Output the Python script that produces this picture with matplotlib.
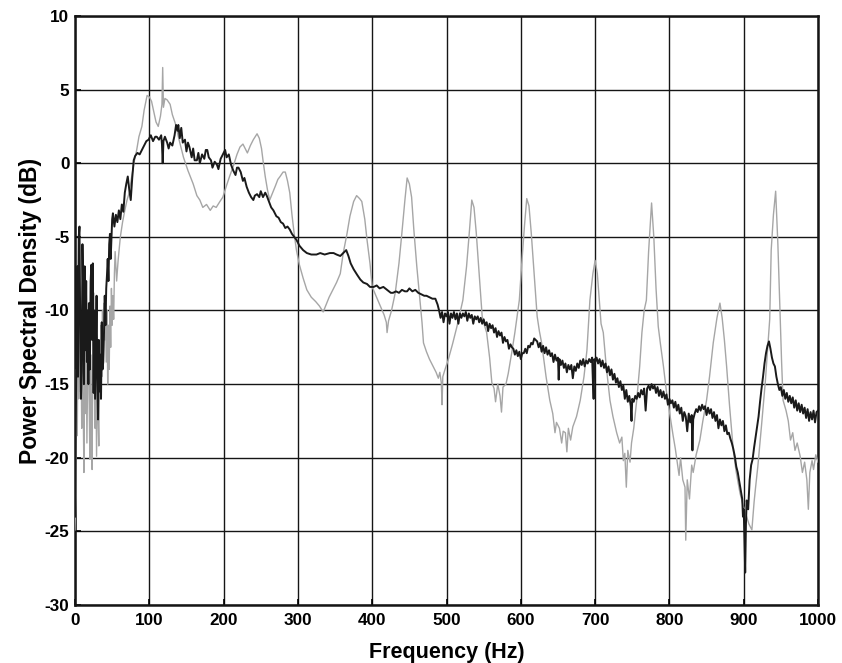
import numpy as np
import matplotlib.pyplot as plt

# (frequency Hz, PSD dB)
gray_points = [
    (0, -24.9), (1, -22.6), (2, -14.0), (3, -18.5), (4, -11.5), (5, -16.0), (6, -10.0), (7, -15.5),
    (8, -12.0), (9, -18.0), (10, -13.0), (11, -16.5), (12, -21.0), (13, -12.5), (14, -17.0), (15, -11.0),
    (16, -19.0), (17, -14.0), (18, -9.5), (19, -16.0), (20, -20.1), (21, -13.0), (22, -17.5), (23, -20.8),
    (24, -12.0), (25, -8.8), (26, -15.0), (27, -18.0), (28, -13.5), (29, -19.9), (30, -14.0), (31, -17.0),
    (32, -19.2), (33, -12.5), (34, -16.0), (35, -11.0), (36, -14.5), (37, -10.0), (38, -13.5), (39, -9.5),
    (40, -12.0), (41, -9.5), (42, -13.5), (43, -10.0), (44, -15.0), (45, -11.0), (46, -14.0), (47, -9.7),
    (48, -12.5), (49, -8.5), (50, -11.0), (51, -9.0), (52, -10.6), (53, -7.5), (54, -6.0), (55, -7.0),
    (56, -8.0), (58, -6.6), (61, -5.0), (64, -4.0), (67, -3.2), (70, -2.5), (73, -2.0), (76, -1.0),
    (80, 0.2), (83, 0.9), (86, 1.8), (90, 2.5), (93, 3.6), (97, 4.6), (100, 4.5), (103, 4.2),
    (106, 3.5), (109, 2.8), (112, 2.5), (115, 3.2), (117, 4.0), (118, 6.5), (119, 3.8), (121, 4.4),
    (124, 4.3), (128, 4.0), (131, 3.3), (135, 2.7), (140, 1.6), (146, 0.4), (152, -0.5), (159, -1.4),
    (164, -2.2), (168, -2.5), (172, -3.0), (177, -2.8), (182, -3.2), (186, -2.9), (190, -3.0), (195, -2.6),
    (199, -2.3), (204, -1.5), (208, -0.9), (213, -0.2), (218, 0.6), (222, 1.1), (226, 1.3), (229, 1.0),
    (232, 0.7), (236, 1.2), (240, 1.6), (245, 2.0), (248, 1.7), (251, 1.0), (253, 0.2), (256, -0.9),
    (259, -1.8), (262, -2.5), (266, -2.0), (270, -1.5), (273, -1.1), (276, -0.9), (280, -0.6), (283, -0.6),
    (286, -1.2), (289, -2.0), (292, -3.5), (295, -4.8), (298, -5.9), (302, -6.9), (307, -7.8), (312, -8.6),
    (318, -9.1), (324, -9.4), (329, -9.7), (334, -10.1), (338, -9.6), (342, -9.1), (347, -8.6), (352, -8.1),
    (357, -7.5), (361, -6.1), (366, -4.8), (370, -3.6), (375, -2.6), (379, -2.2), (383, -2.4), (386, -2.6),
    (390, -3.8), (393, -5.2), (397, -6.8), (400, -8.4), (405, -9.0), (411, -9.7), (416, -10.3), (419, -10.8),
    (420, -11.5), (422, -10.7), (426, -10.0), (431, -8.8), (436, -6.8), (440, -4.7), (444, -2.5), (447, -1.0),
    (450, -1.4), (453, -2.3), (456, -4.5), (460, -7.0), (464, -9.2), (467, -10.8), (469, -12.2), (473, -12.8),
    (477, -13.3), (482, -13.8), (486, -14.2), (489, -14.6), (491, -14.2), (493, -14.9), (494, -16.4), (495, -14.5),
    (498, -14.0), (502, -13.4), (508, -12.3), (514, -11.1), (518, -10.2), (522, -9.3), (527, -7.0), (531, -4.5),
    (534, -2.5), (537, -3.0), (540, -4.7), (544, -7.5), (548, -10.4), (551, -11.0), (554, -11.5), (558, -13.2),
    (561, -14.9), (564, -15.3), (566, -16.2), (569, -15.0), (572, -15.8), (574, -16.9), (576, -15.2), (580, -15.0),
    (583, -14.3), (588, -12.8), (592, -11.5), (598, -9.3), (601, -7.0), (605, -4.2), (608, -2.4), (611, -2.9),
    (614, -4.7), (618, -7.5), (622, -10.4), (625, -11.4), (628, -12.2), (634, -14.5), (639, -16.1), (643, -17.0),
    (646, -18.3), (648, -17.6), (652, -18.0), (655, -19.0), (657, -18.2), (660, -18.3), (662, -19.6), (664, -18.0),
    (667, -18.8), (670, -17.9), (675, -17.2), (680, -16.1), (685, -14.5), (689, -12.7), (693, -9.3), (697, -7.5),
    (700, -6.6), (703, -7.5), (706, -9.5), (708, -10.9), (711, -11.5), (715, -13.8), (720, -16.1), (724, -17.2),
    (729, -18.3), (733, -19.0), (736, -18.6), (738, -20.2), (740, -19.7), (742, -22.0), (744, -19.5), (747, -20.3),
    (749, -19.0), (752, -18.0), (756, -16.1), (760, -13.8), (763, -11.5), (766, -10.0), (769, -9.3), (772, -6.0),
    (776, -2.7), (779, -5.0), (782, -8.5), (785, -11.1), (788, -12.3), (792, -13.8), (796, -15.5), (801, -17.2),
    (805, -18.5), (808, -19.4), (810, -20.1), (813, -21.2), (815, -20.0), (818, -21.5), (821, -22.0), (822, -25.6),
    (824, -21.5), (827, -22.8), (830, -20.5), (832, -21.0), (836, -19.8), (841, -18.8), (845, -17.5), (850, -16.1),
    (854, -14.5), (859, -12.2), (864, -10.5), (868, -9.5), (871, -10.5), (874, -12.0), (877, -13.8), (881, -16.5),
    (886, -19.5), (890, -21.0), (895, -22.4), (899, -23.2), (904, -24.0), (907, -24.5), (911, -24.9), (914, -23.0),
    (916, -22.0), (919, -20.6), (924, -17.8), (929, -14.9), (935, -10.6), (937, -5.9), (940, -3.5), (943, -1.9),
    (946, -5.5), (949, -10.4), (951, -13.5), (953, -16.1), (957, -16.8), (960, -17.5), (963, -18.8), (966, -18.3),
    (969, -19.5), (972, -19.0), (976, -19.9), (979, -21.0), (982, -20.3), (985, -21.5), (987, -23.5), (989, -21.0),
    (992, -20.2), (994, -20.8), (997, -19.8), (1000, -20.3),
]

black_points = [
    (0, -24.0), (1, -18.0), (2, -12.0), (3, -7.0), (4, -14.5), (5, -5.0), (6, -4.3), (7, -11.0),
    (8, -16.0), (9, -14.2), (10, -5.5), (11, -9.0), (12, -15.0), (13, -7.0), (14, -12.7), (15, -8.0),
    (16, -13.5), (17, -10.0), (18, -15.0), (19, -9.5), (20, -14.0), (21, -8.0), (22, -6.9), (23, -12.0),
    (24, -6.8), (25, -15.6), (26, -10.0), (27, -16.0), (28, -12.5), (29, -9.0), (30, -14.5), (31, -17.4),
    (32, -12.0), (33, -15.5), (34, -13.0), (35, -16.0), (36, -10.8), (37, -14.0), (38, -13.5), (39, -11.5),
    (40, -9.0), (41, -11.0), (42, -8.5), (43, -7.6), (44, -6.5), (45, -8.0), (46, -5.5), (47, -4.8),
    (48, -6.5), (50, -3.8), (51, -3.4), (53, -4.3), (55, -3.5), (57, -4.0), (59, -3.2), (61, -3.8),
    (63, -2.8), (65, -3.3), (67, -2.0), (69, -1.4), (71, -0.9), (73, -1.8), (75, -2.5), (77, -1.0),
    (79, 0.2), (81, 0.5), (84, 0.7), (87, 0.6), (90, 0.9), (93, 1.2), (96, 1.5), (99, 1.6),
    (102, 1.9), (105, 1.5), (108, 1.8), (110, 1.8), (113, 1.6), (116, 1.9), (117, 1.3), (118, 0.0),
    (119, 1.5), (121, 1.8), (124, 1.4), (126, 1.0), (128, 1.4), (131, 1.2), (134, 1.9), (136, 2.6),
    (138, 2.2), (139, 2.6), (141, 1.7), (143, 2.4), (145, 1.4), (148, 1.6), (150, 0.8), (152, 1.4),
    (154, 1.1), (157, 0.4), (159, 1.0), (161, 0.2), (164, 0.2), (166, 0.7), (168, 0.0), (171, 0.6),
    (174, 0.3), (176, 0.9), (178, 0.9), (180, 0.4), (183, 0.2), (185, -0.3), (188, 0.1), (191, -0.1),
    (193, -0.4), (196, 0.3), (199, 0.6), (202, 0.9), (204, 0.4), (207, 0.6), (210, -0.1), (213, -0.5),
    (216, -0.8), (218, -0.3), (220, -0.3), (223, -0.6), (226, -1.2), (228, -1.0), (231, -1.6), (234, -2.0),
    (237, -2.3), (240, -2.5), (242, -2.2), (245, -2.1), (248, -2.3), (250, -1.9), (253, -2.3), (256, -2.0),
    (258, -2.2), (261, -2.6), (264, -3.0), (267, -3.2), (271, -3.6), (274, -3.7), (277, -4.0), (280, -4.1),
    (283, -4.4), (286, -4.3), (289, -4.5), (292, -4.8), (295, -5.0), (298, -5.2), (302, -5.6), (307, -5.9),
    (312, -6.1), (318, -6.2), (325, -6.2), (330, -6.1), (336, -6.2), (343, -6.1), (348, -6.1), (352, -6.2),
    (357, -6.3), (361, -6.1), (365, -5.9), (368, -6.3), (371, -6.8), (375, -7.2), (380, -7.6), (384, -7.9),
    (388, -8.1), (393, -8.2), (397, -8.4), (402, -8.4), (406, -8.3), (410, -8.5), (415, -8.4), (420, -8.6),
    (425, -8.8), (428, -8.8), (432, -8.7), (436, -8.8), (440, -8.6), (444, -8.7), (447, -8.7), (450, -8.5),
    (454, -8.7), (458, -8.6), (462, -8.8), (466, -8.9), (470, -9.0), (473, -9.0), (477, -9.1), (481, -9.2),
    (485, -9.2), (488, -9.6), (490, -10.0), (492, -10.5), (494, -10.1), (496, -10.8), (498, -10.2), (500, -10.4),
    (502, -10.1), (504, -10.9), (506, -10.2), (508, -10.5), (510, -10.1), (512, -10.6), (514, -10.2), (516, -10.9),
    (518, -10.2), (520, -10.5), (522, -10.2), (524, -10.4), (526, -10.1), (528, -10.7), (530, -10.2), (532, -10.5),
    (534, -10.3), (536, -10.9), (538, -10.4), (540, -10.6), (542, -10.4), (544, -10.8), (546, -10.5), (548, -10.9),
    (550, -10.6), (552, -11.0), (554, -10.8), (556, -11.4), (558, -10.9), (560, -11.2), (562, -11.0), (564, -11.5),
    (566, -11.2), (568, -11.8), (570, -11.4), (572, -11.7), (574, -11.5), (576, -12.2), (578, -11.8), (580, -12.1),
    (582, -12.0), (584, -12.6), (586, -12.3), (588, -12.5), (590, -12.6), (592, -13.0), (594, -12.7), (596, -13.1),
    (598, -12.8), (600, -13.3), (602, -12.9), (604, -12.9), (606, -12.6), (608, -12.9), (610, -12.4), (612, -12.5),
    (614, -12.2), (616, -12.3), (618, -11.9), (620, -12.0), (622, -12.1), (624, -12.5), (626, -12.2), (628, -12.8),
    (630, -12.4), (632, -12.9), (634, -12.5), (636, -13.0), (638, -12.7), (640, -13.1), (642, -12.9), (644, -13.5),
    (646, -13.0), (648, -13.4), (650, -13.2), (651, -14.7), (652, -13.3), (654, -13.7), (656, -13.4), (658, -13.9),
    (660, -13.6), (662, -14.2), (664, -13.7), (666, -14.0), (668, -13.7), (670, -14.6), (672, -13.8), (674, -14.1),
    (676, -13.6), (678, -13.9), (680, -13.4), (682, -13.7), (684, -13.3), (686, -13.8), (688, -13.4), (690, -13.6),
    (692, -13.3), (694, -13.5), (696, -13.2), (697, -14.8), (698, -16.0), (699, -13.3), (700, -13.5), (702, -13.2),
    (704, -13.6), (706, -13.3), (708, -13.8), (710, -13.4), (712, -13.9), (714, -13.6), (716, -14.2), (718, -13.8),
    (720, -14.4), (722, -14.0), (724, -14.7), (726, -14.3), (728, -14.9), (730, -14.6), (732, -15.2), (734, -14.8),
    (736, -15.4), (738, -15.1), (740, -16.0), (742, -15.4), (744, -16.2), (746, -15.8), (748, -16.5), (749, -17.5),
    (750, -16.0), (752, -16.2), (754, -15.8), (756, -16.0), (758, -15.6), (760, -15.9), (762, -15.4), (764, -15.7),
    (766, -15.3), (768, -16.8), (770, -15.3), (772, -15.1), (774, -15.4), (776, -15.0), (778, -15.3), (780, -15.1),
    (782, -15.6), (784, -15.2), (786, -15.8), (788, -15.4), (790, -15.9), (792, -15.5), (794, -16.0), (796, -15.7),
    (798, -16.4), (800, -16.0), (802, -16.3), (804, -16.1), (806, -16.6), (808, -16.2), (810, -16.8), (812, -16.4),
    (814, -17.0), (816, -16.6), (818, -17.5), (820, -16.9), (822, -17.2), (824, -18.2), (826, -17.0), (828, -17.6),
    (830, -17.1), (831, -19.5), (832, -17.4), (834, -17.0), (836, -16.7), (838, -16.9), (840, -16.5), (842, -16.8),
    (844, -16.4), (846, -16.7), (848, -16.5), (850, -17.1), (852, -16.6), (854, -17.0), (856, -16.7), (858, -17.3),
    (860, -16.9), (862, -17.5), (864, -17.1), (866, -18.0), (868, -17.4), (870, -17.8), (872, -17.5), (874, -18.2),
    (876, -17.8), (878, -18.4), (880, -18.3), (882, -18.7), (884, -19.0), (886, -19.4), (888, -19.9), (890, -20.6),
    (892, -21.0), (894, -21.6), (896, -22.2), (898, -22.8), (899, -24.0), (900, -23.5), (901, -25.5), (902, -27.8),
    (903, -24.5), (904, -22.9), (906, -23.5), (908, -21.5), (910, -20.5), (912, -20.1), (914, -19.3), (916, -18.6),
    (918, -17.9), (920, -17.2), (922, -16.2), (924, -15.3), (926, -14.5), (928, -13.6), (930, -12.9), (932, -12.4),
    (934, -12.1), (936, -12.6), (938, -13.2), (940, -13.6), (942, -13.8), (944, -14.5), (946, -15.0), (948, -15.4),
    (950, -15.2), (952, -15.8), (954, -15.4), (956, -16.0), (958, -15.6), (960, -16.2), (962, -15.8), (964, -16.3),
    (966, -15.9), (968, -16.6), (970, -16.1), (972, -16.8), (974, -16.3), (976, -16.9), (978, -16.4), (980, -17.0),
    (982, -16.6), (984, -17.3), (986, -16.7), (988, -17.5), (990, -16.9), (992, -17.4), (994, -16.8), (996, -17.6),
    (998, -16.9), (1000, -16.8),
]

x_ticks = [0, 100, 200, 300, 400, 500, 600, 700, 800, 900, 1000]
y_ticks = [-30, -25, -20, -15, -10, -5, 0, 5, 10]

plt.rcParams["font.family"] = ["Liberation Sans", "DejaVu Sans"]
plt.rcParams["font.weight"] = "bold"
plt.rcParams["axes.unicode_minus"] = False

fig = plt.figure(figsize=(8.42, 6.63), dpi=100)
ax = fig.add_axes([0.0891, 0.0875, 0.8824, 0.8884])

gray = np.array(gray_points)
black = np.array(black_points)
ax.plot(gray[:, 0], gray[:, 1], color="#a6a6a6", linewidth=1.0, zorder=3)
ax.plot(black[:, 0], black[:, 1], color="#1a1a1a", linewidth=1.4, zorder=4)

ax.set_xlim(0, 1000)
ax.set_ylim(-30, 10)
ax.set_xticks(x_ticks)
ax.set_yticks(y_ticks)
ax.grid(True, color="#151515", linewidth=1.0)
ax.set_axisbelow(True)
ax.tick_params(direction="in", length=4, labelsize=12.3, width=1.2, pad=4)
ax.tick_params(axis="x", pad=6)
for sp in ax.spines.values():
    sp.set_linewidth(1.8)
    sp.set_color("#151515")

ax.set_xlabel("Frequency (Hz)", fontsize=15.5, fontweight="bold", labelpad=10)
ax.set_ylabel("Power Spectral Density (dB)", fontsize=16.5, fontweight="bold", labelpad=2)

fig.savefig("out.png", dpi=100)
